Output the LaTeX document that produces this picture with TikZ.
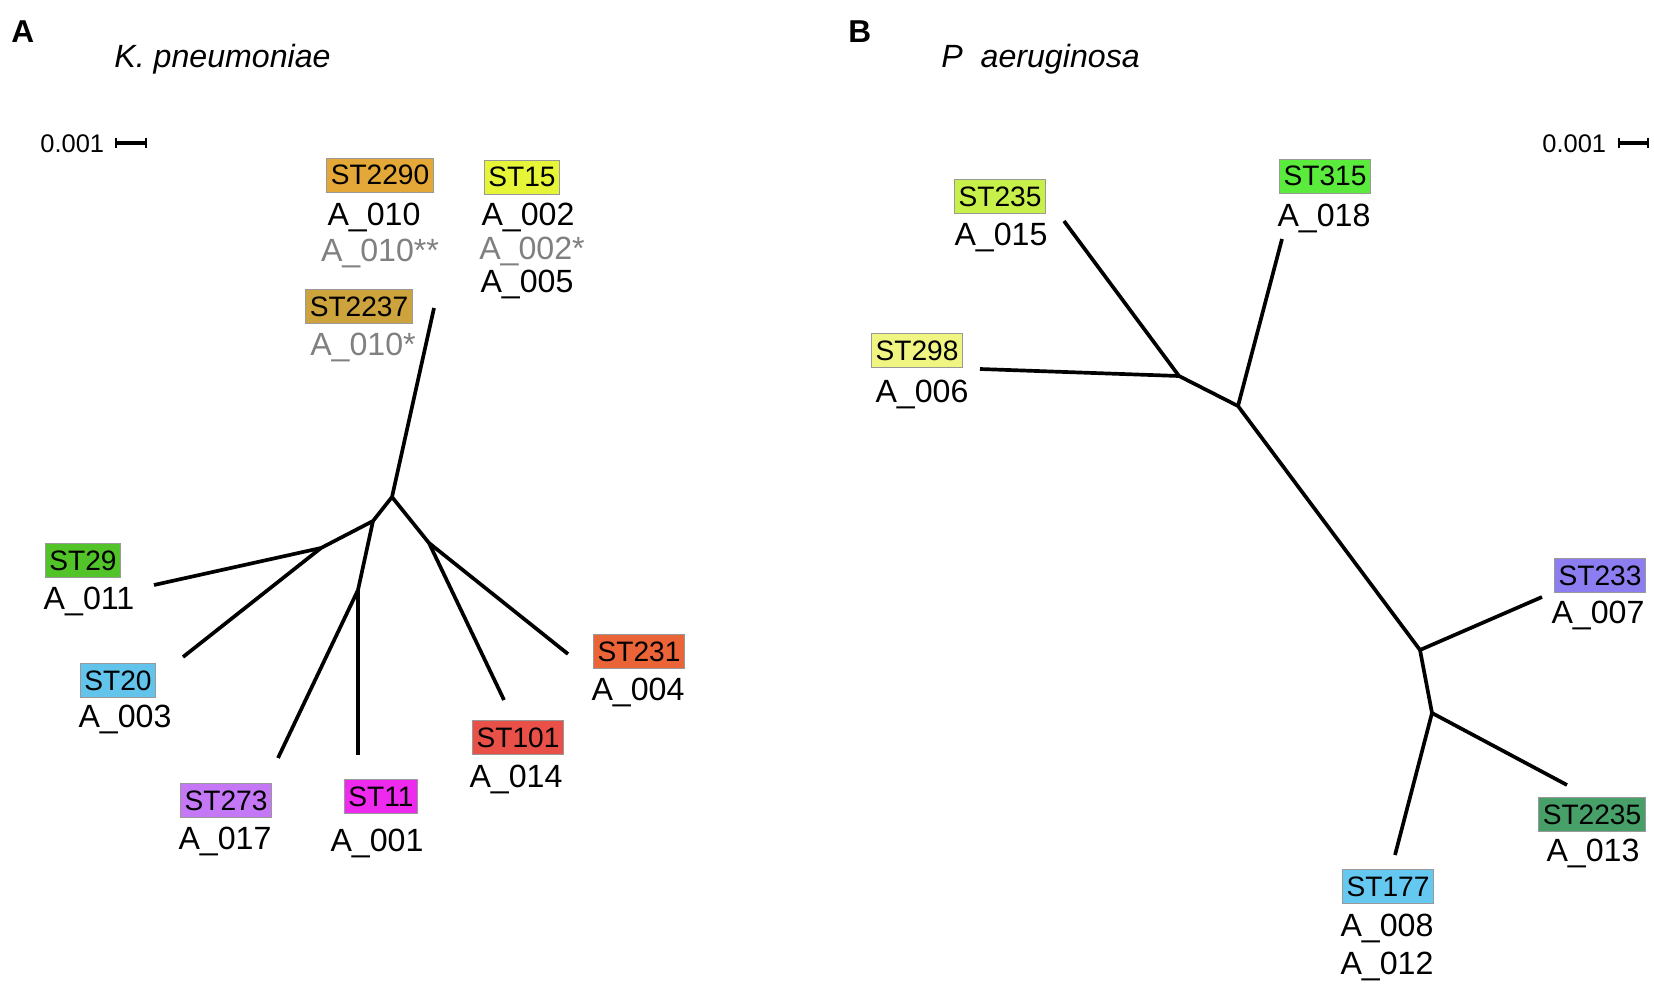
\documentclass[tikz,border=0pt]{standalone}
\usepackage{fontspec}
\setmainfont{Liberation Sans}
\usepackage{tikz}
\usetikzlibrary{positioning}
\definecolor{stgold}{RGB}{227, 168, 55}
\definecolor{styellow}{RGB}{230, 245, 55}
\definecolor{stolive}{RGB}{204, 163, 60}
\definecolor{stgreen}{RGB}{82, 196, 42}
\definecolor{stsky}{RGB}{98, 195, 235}
\definecolor{stlilac}{RGB}{196, 120, 245}
\definecolor{stmagenta}{RGB}{238, 42, 238}
\definecolor{stred}{RGB}{232, 80, 72}
\definecolor{storange}{RGB}{235, 100, 55}
\definecolor{stlime}{RGB}{200, 240, 75}
\definecolor{stbright}{RGB}{90, 235, 60}
\definecolor{stpale}{RGB}{240, 245, 130}
\definecolor{stviolet}{RGB}{140, 125, 240}
\definecolor{stteal}{RGB}{72, 160, 105}
\definecolor{stblue}{RGB}{100, 200, 240}
\definecolor{fadegray}{RGB}{128, 128, 128}

\begin{document}
\begin{tikzpicture}[x=0.02cm, y=-0.02cm,
  stbox/.style={draw=gray!80, line width=0.4pt, inner xsep=0.08cm, inner ysep=0pt,
    minimum height=0.68cm, text height=0.40cm, text depth=0pt, font=\fontsize{16}{18}\selectfont},
  isolate/.style={inner sep=0pt, text height=0.46cm, text depth=0pt, font=\fontsize{18.3}{20}\selectfont},
  faded/.style={isolate, text=fadegray},
  branch/.style={line width=2.1pt},
  panel/.style={anchor=base west, inner sep=0pt, font=\fontsize{18}{20}\selectfont\bfseries},
  species/.style={anchor=base west, inner sep=0pt, font=\fontsize{18.3}{20}\selectfont\itshape},
  scaletext/.style={anchor=base west, inner sep=0pt, font=\fontsize{14.5}{16}\selectfont}]
  \useasboundingbox (0,0) rectangle (1654,987);

  % Panel A: K. pneumoniae
  \node[panel] (labA) at (11,42) {A};
  \node[species] (titleA) at (114,67) {K. pneumoniae};
  \node[scaletext] (scaleA) at (40,152) {0.001};
  \coordinate (sbA1) at (116,143);
  \coordinate (sbA2) at (146,143);
  \draw[line width=2.4pt] (sbA1) -- (sbA2);
  \draw[line width=1pt] ([yshift=3pt]sbA1) -- ([yshift=-3pt]sbA1);
  \draw[line width=1pt] ([yshift=3pt]sbA2) -- ([yshift=-3pt]sbA2);

  \coordinate (kTop) at (434,308);
  \coordinate (kA) at (392,497);
  \coordinate (kB) at (373,521);
  \coordinate (kC) at (321,548);
  \coordinate (kD) at (358,590);
  \coordinate (kE) at (429,543);
  \coordinate (k29) at (154,585);
  \coordinate (k20) at (183,657);
  \coordinate (k273) at (278,758);
  \coordinate (k11) at (358,755);
  \coordinate (k101) at (504,700);
  \coordinate (k231) at (568,654);
  \draw[branch] (kTop) -- (kA) -- (kB) -- (kC) -- (k29);
  \draw[branch] (kC) -- (k20);
  \draw[branch] (kB) -- (kD) -- (k273);
  \draw[branch] (kD) -- (k11);
  \draw[branch] (kA) -- (kE) -- (k101);
  \draw[branch] (kE) -- (k231);

  \node[stbox, fill=stgold] (st2290) at (380,175) {ST2290};
  \node[isolate] (a010) at (374,214) {A\_010};
  \node[faded] (a010b) at (380,250) {A\_010**};
  \node[stbox, fill=styellow] (st15) at (522,177) {ST15};
  \node[isolate] (a002) at (528,214) {A\_002};
  \node[faded] (a002b) at (532,248) {A\_002*};
  \node[isolate] (a005) at (527,281) {A\_005};
  \node[stbox, fill=stolive] (st2237) at (359,306) {ST2237};
  \node[faded] (a010c) at (363,344) {A\_010*};

  \node[stbox, fill=stgreen] (st29) at (83,560) {ST29};
  \node[isolate] (a011) at (89,598) {A\_011};
  \node[stbox, fill=stsky] (st20) at (118,680) {ST20};
  \node[isolate] (a003) at (125,716) {A\_003};
  \node[stbox, fill=stlilac] (st273) at (226,800) {ST273};
  \node[isolate] (a017) at (225,838) {A\_017};
  \node[stbox, fill=stmagenta] (st11) at (381,796) {ST11};
  \node[isolate] (a001) at (377,840) {A\_001};
  \node[stbox, fill=stred] (st101) at (518,737) {ST101};
  \node[isolate] (a014) at (516,776) {A\_014};
  \node[stbox, fill=storange] (st231) at (639,651) {ST231};
  \node[isolate] (a004) at (638,689) {A\_004};

  % Panel B: P aeruginosa
  \node[panel] (labB) at (848,42) {B};
  \node[species] (titleB) at (941,67) {P\phantom{.} aeruginosa};
  \node[scaletext] (scaleB) at (1542,152) {0.001};
  \coordinate (sbB1) at (1619,143);
  \coordinate (sbB2) at (1648,143);
  \draw[line width=2.4pt] (sbB1) -- (sbB2);
  \draw[line width=1pt] ([yshift=3pt]sbB1) -- ([yshift=-3pt]sbB1);
  \draw[line width=1pt] ([yshift=3pt]sbB2) -- ([yshift=-3pt]sbB2);

  \coordinate (p235) at (1064,221);
  \coordinate (pA) at (1179,376);
  \coordinate (p298) at (980,369);
  \coordinate (pB) at (1238,406);
  \coordinate (p315) at (1282,239);
  \coordinate (pC) at (1420,650);
  \coordinate (p233) at (1542,597);
  \coordinate (pD) at (1432,713);
  \coordinate (p2235) at (1567,785);
  \coordinate (p177) at (1395,855);
  \draw[branch] (p235) -- (pA) -- (pB) -- (pC) -- (pD) -- (p177);
  \draw[branch] (p298) -- (pA);
  \draw[branch] (pB) -- (p315);
  \draw[branch] (pC) -- (p233);
  \draw[branch] (pD) -- (p2235);

  \node[stbox, fill=stlime] (st235) at (1000,196) {ST235};
  \node[isolate] (a015) at (1001,234) {A\_015};
  \node[stbox, fill=stbright] (st315) at (1325,176) {ST315};
  \node[isolate] (a018) at (1324,215) {A\_018};
  \node[stbox, fill=stpale] (st298) at (917,350) {ST298};
  \node[isolate] (a006) at (922,391) {A\_006};
  \node[stbox, fill=stviolet] (st233) at (1600,575) {ST233};
  \node[isolate] (a007) at (1598,612) {A\_007};
  \node[stbox, fill=stteal] (st2235) at (1592,814) {ST2235};
  \node[isolate] (a013) at (1593,850) {A\_013};
  \node[stbox, fill=stblue] (st177) at (1388,886) {ST177};
  \node[isolate] (a008) at (1387,925) {A\_008};
  \node[isolate] (a012) at (1387,963) {A\_012};
\end{tikzpicture}
\end{document}
